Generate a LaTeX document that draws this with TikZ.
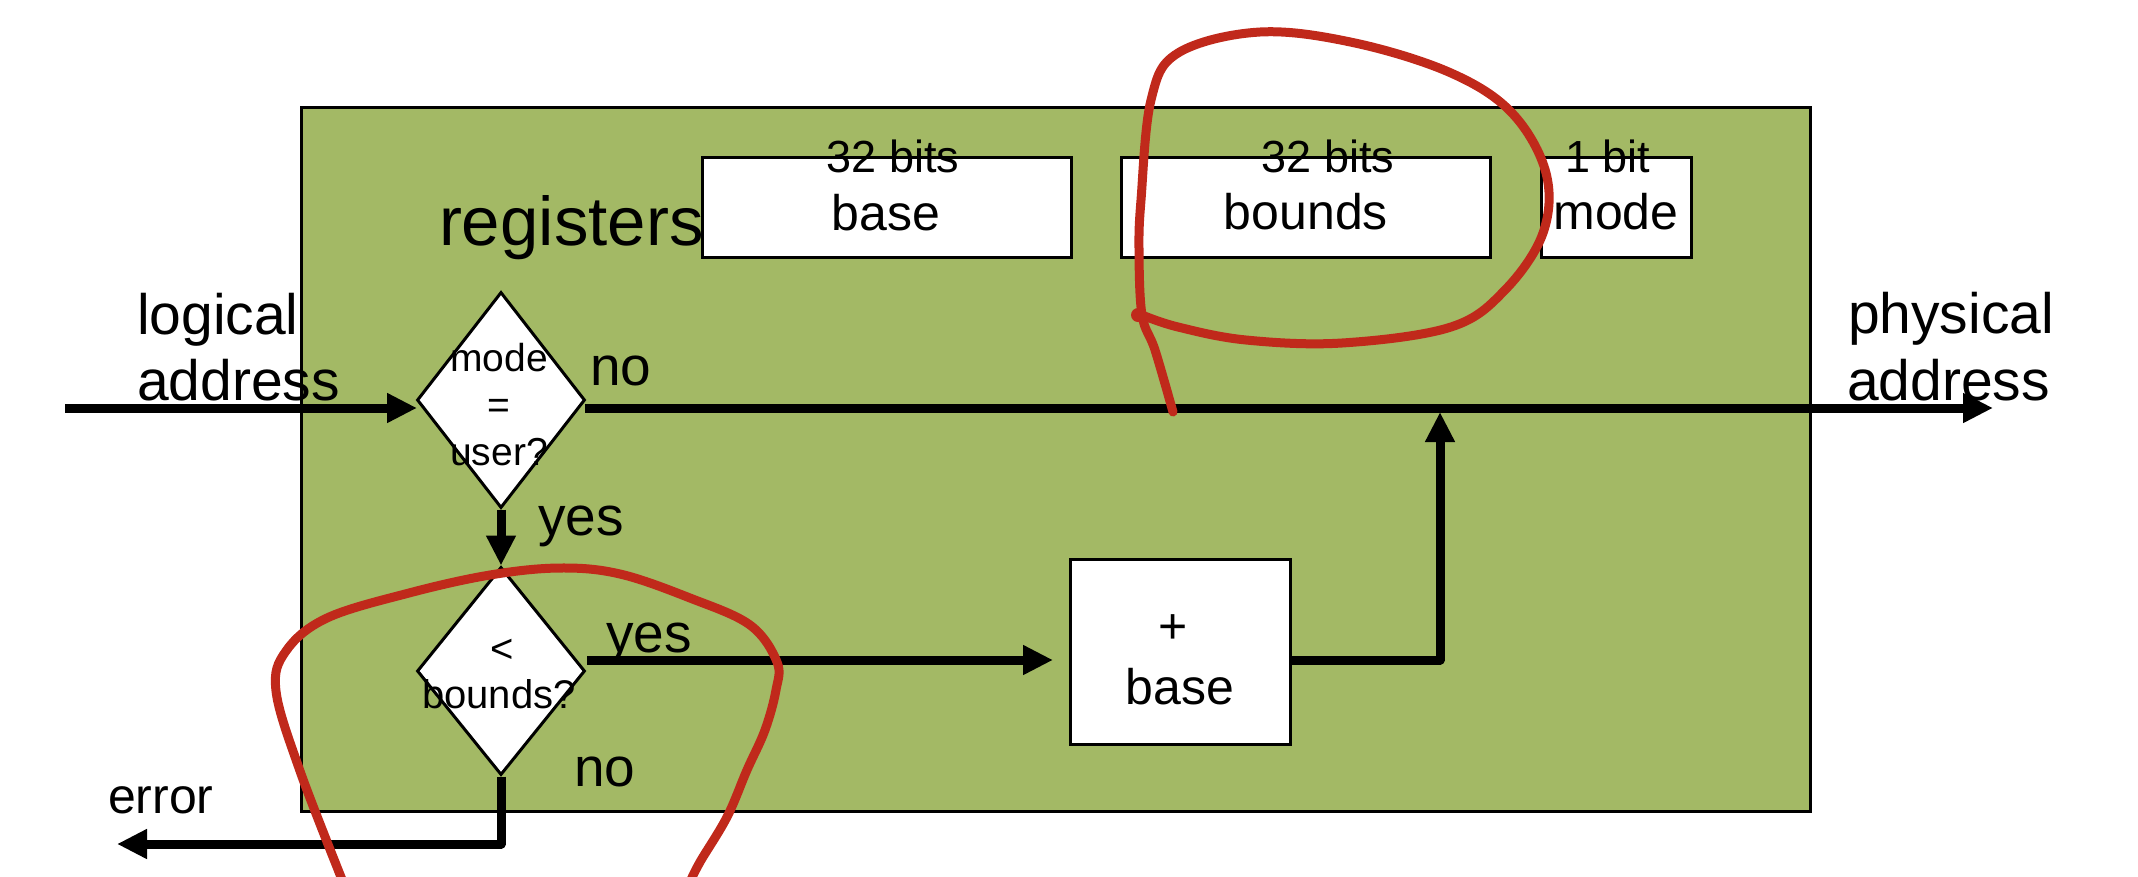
\documentclass[tikz,border=0pt]{standalone}
\usepackage{fontspec}
\setmainfont{Liberation Sans}
\usetikzlibrary{arrows.meta,shapes.geometric,calc}
\definecolor{mmugreen}{RGB}{163,185,101}
\definecolor{inkred}{RGB}{192,41,27}
\newcommand\fsz[1]{\fontsize{#1}{#1}\selectfont}
\begin{document}
\begin{tikzpicture}[x=1pt,y=-1pt,
  txt/.style={inner sep=0pt, outer sep=0pt, anchor=base},
  txtl/.style={inner sep=0pt, outer sep=0pt, anchor=base west},
  regbox/.style={draw, fill=white, line width=3pt, inner sep=0pt, minimum height=100pt},
  decide/.style={diamond, draw, fill=white, line width=3pt, inner sep=0pt, minimum width=168pt},
  flow/.style={line width=9pt, line join=round, -{Triangle[length=30pt,width=28pt]}},
  ink/.style={draw=inkred, line width=9pt, line cap=round, line join=round}
]
\useasboundingbox (0,0) rectangle (2138,876);
% MMU box
\node[draw, fill=mmugreen, line width=3pt, inner sep=0pt, minimum width=1509pt, minimum height=704pt, anchor=north west] (mmu) at (300,106) {};
% registers
\node[regbox, minimum width=369pt] (rbase) at (886.5,207) {};
\node[regbox, minimum width=369pt] (rbounds) at (1305.5,207) {};
\node[regbox, minimum width=150pt] (rmode) at (1616,207) {};
\node[txt, font=\fsz{50}] (tbase) at (886,230) {base};
\node[txt, font=\fsz{50}] (tbounds) at (1306,229) {bounds};
\node[txt, font=\fsz{50}] (tmode) at (1616,229) {mode};
\node[txt, font=\fsz{45}] (bits1) at (893,172) {32 bits};
\node[txt, font=\fsz{45}] (bits2) at (1328,172) {32 bits};
\node[txt, font=\fsz{45}] (bits3) at (1608,172) {1 bit};
\node[txtl, font=\fsz{69}] (treg) at (439,245) {registers};
% decisions
\node[decide, minimum height=216pt] (d1) at (501,400) {};
\node[decide, minimum height=208pt] (d2) at (501,671) {};
\node[regbox, minimum width=220pt, minimum height=185pt] (adder) at (1180,651.5) {};
% diamond texts
\node[txt, font=\fsz{39}] (q1a) at (499,371) {mode};
\node[txt, font=\fsz{39}] (q1b) at (499,418) {=};
\node[txt, font=\fsz{39}] (q1c) at (499,465) {user?};
\node[txt, font=\fsz{40}] (q2a) at (502,662) {<};
\node[txt, font=\fsz{40}] (q2b) at (499,708) {bounds?};
\node[txt, font=\fsz{50}] (adda) at (1173,643) {+};
\node[txt, font=\fsz{50}] (addb) at (1180,704) {base};
% connectors
\coordinate (inl) at (65,408);
\coordinate (d1in) at (417,408);
\coordinate (d1out) at (585,408);
\coordinate (phys) at (1993,408);
\coordinate (d2out) at (587,660);
\coordinate (addin) at (1053,660);
\coordinate (joinpt) at (1440,412);
\coordinate (errc) at (501,844);
\coordinate (errend) at (117,844);
\draw[flow] (inl) -- (d1in);
\draw[flow] (d1out) -- (phys);
\draw[flow] (d1.south) -- (d2.north);
\draw[flow] (d2out) -- (addin);
\draw[flow] (adder.east |- addin) -| (joinpt);
\draw[flow] (d2.south) -- (errc) -- (errend);
% labels
\node[txtl, font=\fsz{57}] (la1) at (137,334) {logical};
\node[txtl, font=\fsz{57}] (la2) at (137,400) {address};
\node[txtl, font=\fsz{57}] (pa1) at (1848,333) {physical};
\node[txtl, font=\fsz{57}] (pa2) at (1847,400) {address};
\node[txtl, font=\fsz{55}] (no1) at (590,385) {no};
\node[txtl, font=\fsz{55}] (yes1) at (538,535) {yes};
\node[txtl, font=\fsz{55}] (yes2) at (606,652) {yes};
\node[txtl, font=\fsz{55}] (no2) at (574,786) {no};
\node[txtl, font=\fsz{50}] (err) at (108,813) {error};
% red annotations
\draw[ink] plot[smooth, tension=0.6] coordinates {(1173,412) (1155,350) (1142,315) (1139,250) (1141,200) (1151,100) (1178,53) (1260,32) (1355,43) (1451,73) (1512,113) (1546,173) (1543,233) (1505,290) (1451,327) (1342,343) (1246,340) (1178,327) (1142,315)};
\fill[inkred] (1138,315) circle (7pt);
\draw[ink] plot[smooth, tension=0.6] coordinates {(343,882) (300,771) (276,691) (286,651) (327,618) (409,593) (490,575) (560,568) (620,574) (690,598) (750,625) (777,662) (776,690) (765,730) (747,770) (727,817) (700,862) (690,882)};
\end{tikzpicture}
\end{document}
